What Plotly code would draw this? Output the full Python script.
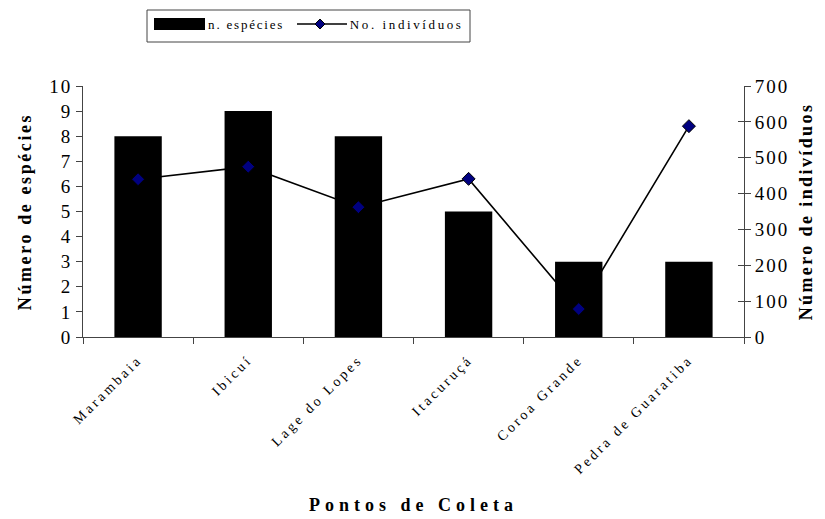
import plotly.graph_objects as go

# Sampling sites and their counts
pontos = ["Marambaia", "Ibicuí", "Lage do Lopes", "Itacuruçá", "Coroa Grande", "Pedra de Guaratiba"]
n_especies = [8, 9, 8, 5, 3, 3]
n_individuos = [440, 475, 362, 441, 78, 588]

W, H = 825, 519
L, R, T, B = 83, 744, 86, 337  # plot area in pixels


def px(x):
    return (x - L) / (R - L)


def py(y):
    return (B - y) / (B - T)


SERIF = "Liberation Serif, Times New Roman, serif"
AX = "#444"

fig = go.Figure()

# connecting line sits underneath the bars
fig.add_trace(go.Scatter(
    x=pontos, y=n_individuos, mode="lines", yaxis="y",
    line=dict(color="black", width=1.6), showlegend=False, hoverinfo="skip"))

fig.add_trace(go.Bar(
    x=pontos, y=n_especies, yaxis="y2", name="n. espécies",
    marker=dict(color="black", line=dict(width=0)), showlegend=False))

# diamond markers drawn on top of everything
fig.add_trace(go.Scatter(
    x=pontos, y=n_individuos, mode="markers", yaxis="y3", name="No. indivíduos",
    marker=dict(symbol="diamond", size=10, color="#000080",
                line=dict(color="black", width=1)), showlegend=False))

axis_line = dict(showline=True, linecolor=AX, linewidth=1, ticks="outside",
                 tickcolor=AX, ticklen=6, showgrid=False, zeroline=False)
# inner half of the crossing tick marks
inner_ticks = dict(showline=False, ticks="inside", tickcolor=AX, ticklen=6,
                   showticklabels=False, showgrid=False, zeroline=False)

fig.update_layout(
    width=W, height=H,
    margin=dict(l=L, r=W - R, t=T, b=H - B),
    paper_bgcolor="white", plot_bgcolor="white",
    font=dict(family=SERIF, color="black", size=16),
    bargap=0.57,
    xaxis=dict(**axis_line, tickson="boundaries", tickangle=-45,
               ticklabelstandoff=8,
               tickfont=dict(size=14, family=SERIF)),
    yaxis=dict(**axis_line, side="right", range=[0, 700], dtick=100,
               tickfont=dict(size=19),
               title=dict(text="<b>Número de indivíduos</b>", font=dict(size=18), standoff=17)),
    yaxis2=dict(**axis_line, side="left", overlaying="y", range=[0, 10], dtick=1,
                tickfont=dict(size=19),
                title=dict(text="<b>Número de espécies</b>", font=dict(size=18), standoff=16)),
    yaxis3=dict(**inner_ticks, overlaying="y", side="right", range=[0, 700], dtick=100),
    yaxis4=dict(**inner_ticks, overlaying="y", side="left", range=[0, 10], dtick=1),
)

# x axis title
fig.add_annotation(text="<b>Pontos de Coleta</b>", xref="paper", yref="paper",
                   x=px(413), y=py(505), showarrow=False, yanchor="middle",
                   font=dict(size=18, family=SERIF))

# legend box
shapes = [
    dict(type="rect", xref="paper", yref="paper",
         x0=px(147), x1=px(470), y0=py(42), y1=py(10),
         line=dict(color=AX, width=1), fillcolor="white"),
    dict(type="rect", xref="paper", yref="paper",
         x0=px(154), x1=px(205), y0=py(30), y1=py(18),
         line=dict(width=0), fillcolor="black"),
    dict(type="line", xref="paper", yref="paper",
         x0=px(297), x1=px(347), y0=py(24), y1=py(24),
         line=dict(color="black", width=1.6)),
]
cx, cy, d = 320, 24, 5
shapes.append(dict(
    type="path", xref="paper", yref="paper",
    path=f"M {px(cx - d)} {py(cy)} L {px(cx)} {py(cy - d)} L {px(cx + d)} {py(cy)} L {px(cx)} {py(cy + d)} Z",
    fillcolor="#000080", line=dict(color="black", width=1)))
fig.update_layout(shapes=shapes)

fig.add_annotation(text="n. espécies", xref="paper", yref="paper",
                   x=px(246), y=py(24), xanchor="center", yanchor="middle", showarrow=False,
                   font=dict(size=13, family=SERIF))
fig.add_annotation(text="No. indivíduos", xref="paper", yref="paper",
                   x=px(406), y=py(24), xanchor="center", yanchor="middle", showarrow=False,
                   font=dict(size=13, family=SERIF))

# widen the letter spacing of the text, as in the printed chart
post = """
var gd = document.getElementById('{plot_id}');
function sp(sel, v) { gd.querySelectorAll(sel).forEach(function(t){ t.style.letterSpacing = v; }); }
sp('g.xtick text', '3px');
sp('g.ytick text', '2px');
sp('g.y2tick text', '2px');
sp('text.ytitle', '2.4px');
sp('text.y2title', '2.6px');
gd.querySelectorAll('.annotation-text').forEach(function(t){
  var s = t.textContent;
  if (s.indexOf('Pontos') === 0) { t.style.letterSpacing = '5px'; }
  else if (s.indexOf('n. esp') === 0) { t.style.letterSpacing = '1.8px'; }
  else if (s.indexOf('No.') === 0) { t.style.letterSpacing = '2.6px'; }
});
"""

fig.write_html("out.html", post_script=post)
